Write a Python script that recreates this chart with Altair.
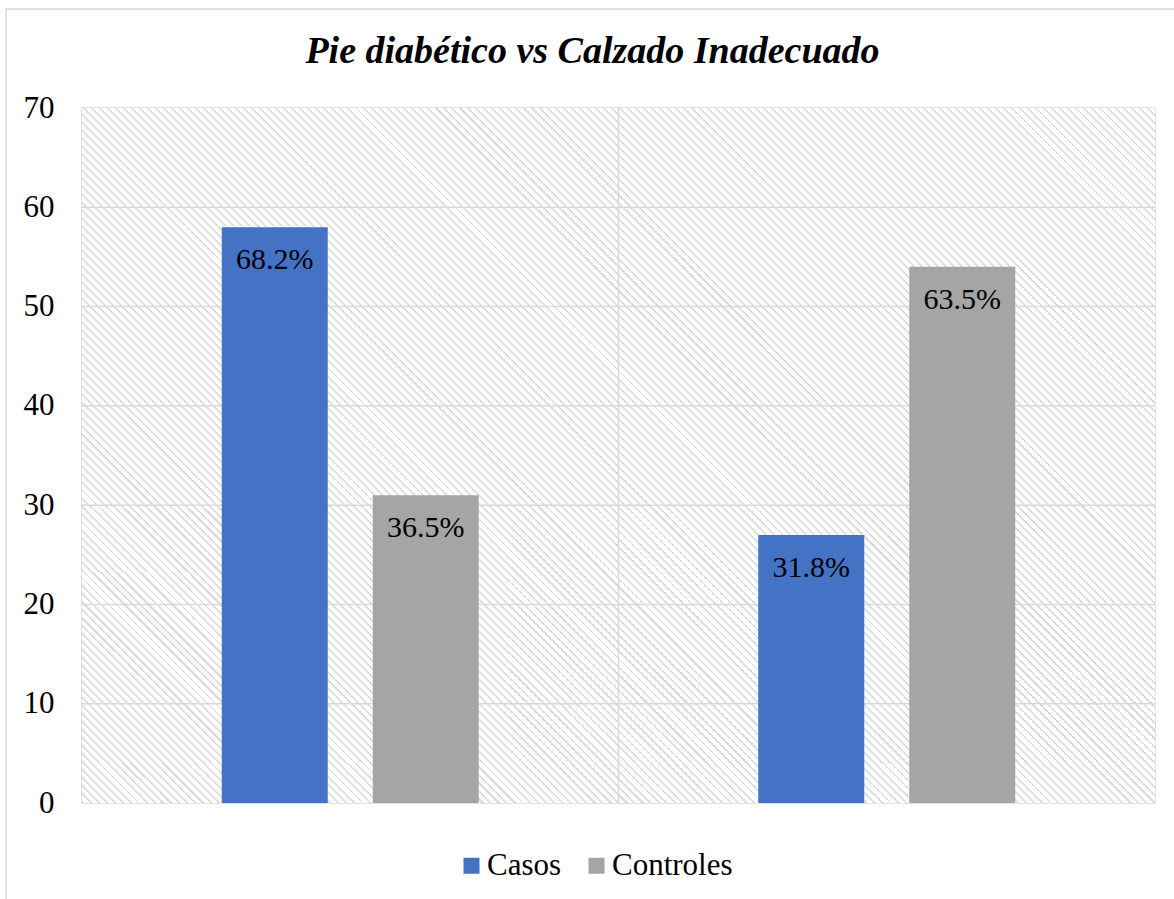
import altair as alt
import pandas as pd

# ---- data ----
grupos = ["Sí", "No"]
series = ["Casos", "Controles"]
casos = [58, 27]
controles = [31, 54]
pct_casos = ["68.2%", "31.8%"]
pct_controles = ["36.5%", "63.5%"]
colores = ["#4472C4", "#A5A5A5"]
y_ticks = [0, 10, 20, 30, 40, 50, 60, 70]

rows = []
for i, g in enumerate(grupos):
    rows.append({"grupo": g, "serie": "Casos", "valor": casos[i], "pct": pct_casos[i]})
    rows.append({"grupo": g, "serie": "Controles", "valor": controles[i], "pct": pct_controles[i]})
df = pd.DataFrame(rows)

W, H = 1073, 695
FONT = "Liberation Serif"
GRID = "#d9d9d9"

# hatched background via striped linear gradient (45° "\" stripes, 8px period)
r = H / W
s = (1 + r) / (1 + r * r)
n = (W + H) // 8
f = 0.25
stops = []
for k in range(n):
    a = k / n
    b = (k + f) / n
    c = (k + 1) / n
    stops += [
        {"offset": a, "color": "#d9d9d9"},
        {"offset": b, "color": "#d9d9d9"},
        {"offset": b, "color": "#ffffff"},
        {"offset": c, "color": "#ffffff"},
    ]
grad = {"gradient": "linear", "x1": 0, "y1": 1, "x2": s, "y2": 1 - s * r, "stops": stops}

x_scale = alt.Scale(domain=grupos, paddingInner=0, paddingOuter=0)
x_enc = alt.X("grupo:N", sort=grupos, scale=x_scale, axis=None)
xo_enc = alt.XOffset("serie:N", sort=series,
                     scale=alt.Scale(paddingInner=0.298, paddingOuter=0.9255))
y_scale = alt.Scale(domain=[0, 70], nice=False)
y_axis = alt.Axis(title=None, values=y_ticks, grid=False,
                  ticks=False, domain=False, labelFont=FONT, labelFontSize=31,
                  labelColor="#000000", labelPadding=28)
y_enc = alt.Y("valor:Q", scale=y_scale, axis=y_axis)

base = alt.Chart(df)

bg = alt.Chart(pd.DataFrame({"a": [0]})).mark_rect(fill=grad, strokeWidth=0).encode(
    x=alt.value(0), x2=alt.value(W), y=alt.value(0), y2=alt.value(H)
)

hgrid = alt.Chart(pd.DataFrame({"v": y_ticks[1:-1]})).mark_rule(
    color=GRID, strokeWidth=1.5
).encode(y=alt.Y("v:Q", scale=y_scale, axis=y_axis))

vgrid = alt.Chart(pd.DataFrame({"grupo": grupos[1:]})).mark_rule(
    color=GRID, strokeWidth=1.5
).encode(x=alt.X("grupo:N", sort=grupos, scale=x_scale, axis=None, bandPosition=0))

bars = base.mark_bar().encode(
    x=x_enc, xOffset=xo_enc, y=y_enc,
    color=alt.Color("serie:N", sort=series,
                    scale=alt.Scale(domain=series, range=colores),
                    legend=alt.Legend(title=None, orient="none", direction="horizontal",
                                      legendX=374, legendY=742, padding=0,
                                      symbolType="square", symbolSize=256, symbolStrokeWidth=0,
                                      labelFont=FONT, labelFontSize=31, labelColor="#000000",
                                      labelOffset=0, columnPadding=19)),
)

labels = base.mark_text(font=FONT, fontSize=30, color="#000000",
                        baseline="alphabetic", dy=42).encode(
    x=x_enc, xOffset=xo_enc, y=y_enc, text="pct:N"
)

frame = alt.Chart(pd.DataFrame({"a": [0]})).mark_rect(
    filled=False, stroke=GRID, strokeWidth=1.5
).encode(x=alt.value(-76), x2=alt.value(1100), y=alt.value(-99), y2=alt.value(800))

chart = alt.layer(bg, hgrid, vgrid, frame, bars, labels).properties(
    width=W, height=H,
    autosize=alt.AutoSizeParams(type="none"),
    padding={"left": 82, "top": 108, "right": 19, "bottom": 96},
    title=alt.TitleParams("Pie diabético vs Calzado Inadecuado", font=FONT, fontSize=38,
                          fontWeight="bold", fontStyle="italic", color="#000000",
                          anchor="middle", dx=-26, baseline="alphabetic", offset=-93),
).configure_view(stroke=GRID, strokeWidth=1.5)

chart.save("out.html", embed_options={"renderer": "svg", "actions": False})
